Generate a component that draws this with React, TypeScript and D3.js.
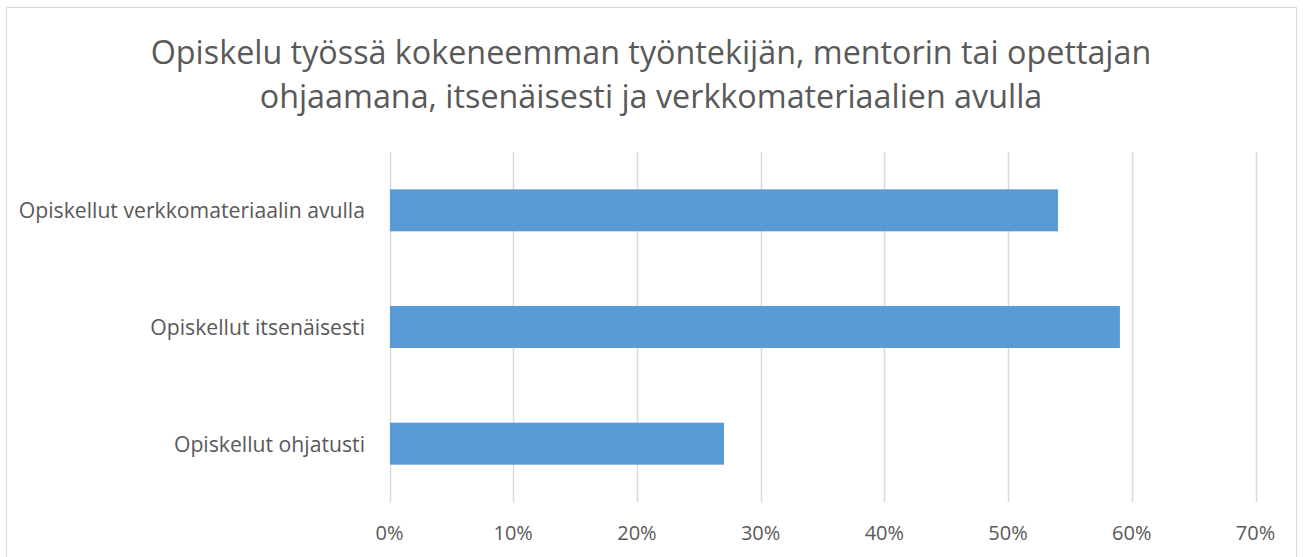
import React from "react";
import * as d3 from "d3";

const categories = [
  "Opiskellut verkkomateriaalin avulla",
  "Opiskellut itsenäisesti",
  "Opiskellut ohjatusti",
];
const values = [0.54, 0.59, 0.27];
const ticks = [0, 0.1, 0.2, 0.3, 0.4, 0.5, 0.6, 0.7];
const titleLines = [
  "Opiskelu työssä kokeneemman työntekijän, mentorin tai opettajan",
  "ohjaamana, itsenäisesti ja verkkomateriaalien avulla",
];

const W = 1303;
const H = 557;
const FONT = "'Open Sans', 'Liberation Sans', sans-serif";
const TEXT = "#595959";

export default function App() {
  const x = d3.scaleLinear().domain([0, 0.7]).range([389.5, 1255.5]);
  const y = d3
    .scaleBand<string>()
    .domain(categories)
    .range([152, 502])
    .paddingInner(0.64)
    .paddingOuter(0.32);
  const fmt = d3.format(".0%");
  return (
    <svg
      width={W}
      height={H}
      style={{ position: "absolute", left: 0, top: 0 }}
      fontFamily={FONT}
    >
      <rect x={0} y={0} width={W} height={H} fill="#fff" />
      <rect x={6.5} y={7.5} width={1290} height={560} fill="none" stroke="#d9d9d9" strokeWidth={1} />
      {titleLines.map((t, i) => (
        <text
          key={i}
          x={651}
          y={64 + i * 44}
          textAnchor="middle"
          fontSize={32.3}
          fill={TEXT}
        >
          {t}
        </text>
      ))}
      {ticks.map((t) => (
        <line
          key={t}
          x1={Math.round(x(t)) + 0.5}
          x2={Math.round(x(t)) + 0.5}
          y1={152}
          y2={502}
          stroke="#d9d9d9"
          strokeWidth={1.5}
        />
      ))}
      {categories.map((c, i) => (
        <rect
          key={c}
          x={x(0) + 0.5}
          y={y(c)!}
          width={x(values[i]) - x(0)}
          height={y.bandwidth()}
          fill="#5b9bd5"
        />
      ))}
      {categories.map((c) => (
        <text
          key={c}
          x={365}
          y={y(c)! + y.bandwidth() / 2 + 8}
          textAnchor="end"
          fontSize={21.2}
          fill={TEXT}
        >
          {c}
        </text>
      ))}
      {ticks.map((t) => (
        <text
          key={t}
          x={x(t)}
          y={540}
          textAnchor="middle"
          fontSize={20}
          fill={TEXT}
        >
          {fmt(t)}
        </text>
      ))}
    </svg>
  );
}
